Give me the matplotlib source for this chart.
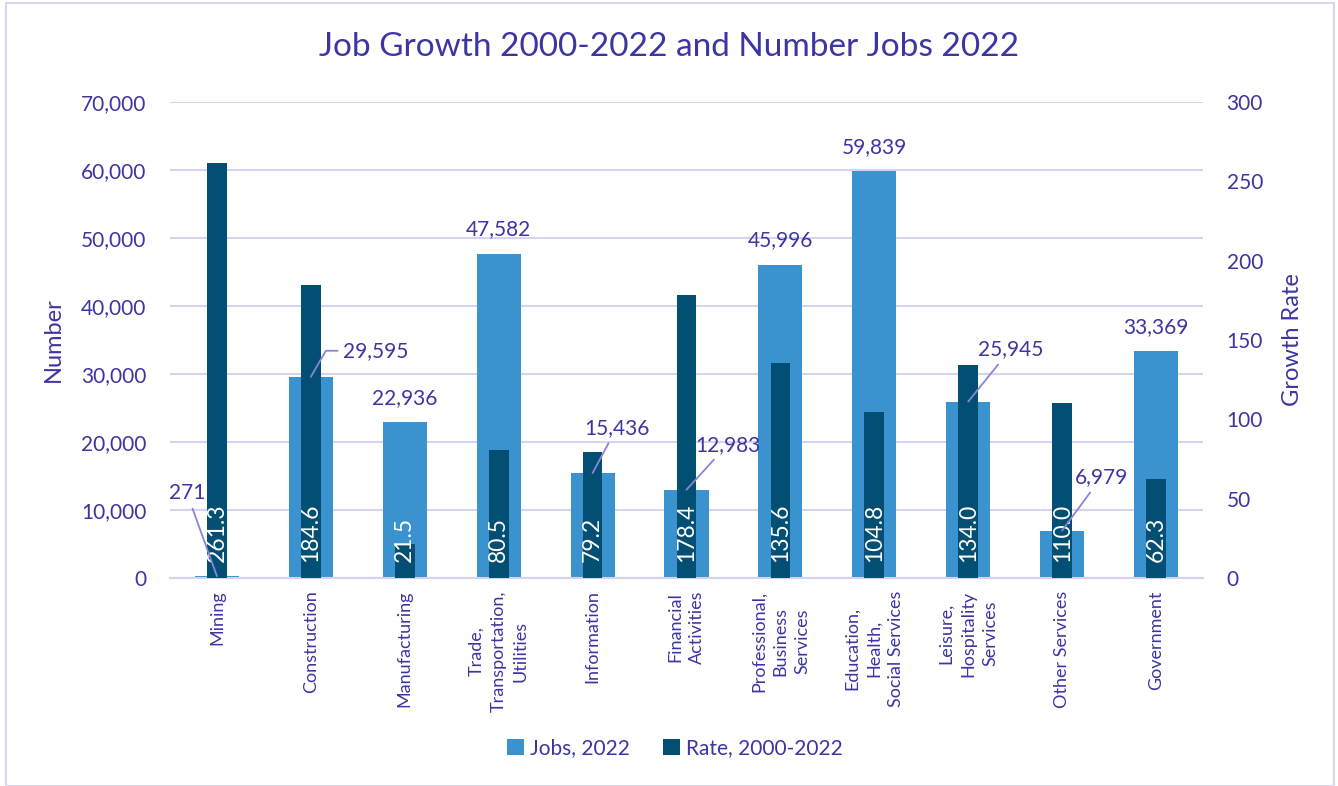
import matplotlib
matplotlib.use("Agg")
import matplotlib.pyplot as plt
from matplotlib.patches import Rectangle
from matplotlib.ticker import FuncFormatter

plt.rcParams['font.family'] = ['Lato', 'DejaVu Sans']

# data
categories = ["Mining", "Construction", "Manufacturing",
              "Trade,\nTransportation,\nUtilities", "Information",
              "Financial\nActivities", "Professional,\nBusiness\nServices",
              "Education,\nHealth,\nSocial Services",
              "Leisure,\nHospitality\nServices", "Other Services", "Government"]
jobs_2022 = [271, 29595, 22936, 47582, 15436, 12983, 45996, 59839, 25945, 6979, 33369]
rate_2000_2022 = [261.3, 184.6, 21.5, 80.5, 79.2, 178.4, 135.6, 104.8, 134.0, 110.0, 62.3]

# label offsets for the jobs numbers (pixels), and which get a leader line
label_off = [(-30, 83), (65, 26), (0, 24), (0, 25), (24, 45), (41, 45),
             (0, 25), (0, 24), (42, 52), (39, 53), (0, 24)]
leader = [True, True, False, False, True, True, False, False, True, True, False]

TXT = '#3C35A2'
LIGHT = '#3A92CF'
DARK = '#034F73'
GRID = '#D6D3F0'
LINE = '#8B84D8'

W, H = 1338, 786
fig = plt.figure(figsize=(W / 100, H / 100), dpi=100)
fig.patches.append(Rectangle((6 / W, 0), (1334 - 6) / W, 1 - 3 / H, transform=fig.transFigure,
                             fill=False, edgecolor='#D9D5F2', linewidth=1.5))

ax = fig.add_axes([170 / W, (H - 578) / H, (1203 - 170) / W, (578 - 102) / H])
ax2 = ax.twinx()

x = list(range(len(categories)))
ax.bar(x, jobs_2022, width=0.47, color=LIGHT, zorder=2, label='Jobs, 2022')
ax2.bar(x, rate_2000_2022, width=0.21, color=DARK, zorder=2, label='Rate, 2000-2022')

ax.set_xlim(-0.5, len(categories) - 0.5)
ax.set_ylim(0, 70000)
ax2.set_ylim(0, 300)
ax.set_yticks(range(0, 70001, 10000))
ax2.set_yticks(range(0, 301, 50))
ax.yaxis.set_major_formatter(FuncFormatter(lambda v, p: f'{int(v):,}'))

ax.grid(axis='y', color=GRID, linewidth=1.5, zorder=0)
ax.set_axisbelow(True)
for a in (ax, ax2):
    for s in a.spines.values():
        s.set_visible(False)
ax.spines['bottom'].set_visible(True)
ax.spines['bottom'].set_color(GRID)
ax.spines['bottom'].set_linewidth(1.5)

ax.tick_params(axis='y', length=0, pad=17, labelsize=15, labelcolor=TXT)
ax2.tick_params(axis='y', length=0, pad=17, labelsize=15, labelcolor=TXT)
ax.set_xticks(x)
ax.set_xticklabels(categories, rotation=90, ha='center', va='top',
                   multialignment='center', fontsize=13, color=TXT, linespacing=1.45)
ax.tick_params(axis='x', length=0, pad=9)

ax.set_ylabel('Number', fontsize=17, color=TXT, labelpad=12)
ax2.set_ylabel('Growth Rate', fontsize=17, color=TXT, labelpad=14)

# rate labels inside dark bars
for i, r in enumerate(rate_2000_2022):
    ax2.annotate(f'{r:.1f}', xy=(i, 0), xytext=(0, 16), textcoords='offset pixels',
                 rotation=90, ha='center', va='bottom', color='white', fontsize=16.5, zorder=5)

# jobs labels
for i, v in enumerate(jobs_2022):
    dx, dy = label_off[i]
    props = None
    if leader[i]:
        props = dict(arrowstyle='-', color=LINE, lw=1.3, shrinkA=2, shrinkB=0)
        if i == 1:
            props['connectionstyle'] = 'angle,angleA=0,angleB=60,rad=0'
    ax2.annotate(f'{v:,}', xy=(i, v), xycoords=ax.transData, xytext=(dx, dy),
                 textcoords='offset pixels', ha='center', va='center', fontsize=15,
                 color=TXT, arrowprops=props, zorder=6)

fig.text(0.5, 1 - 47 / H, 'Job Growth 2000-2022 and Number Jobs 2022',
         ha='center', va='center', fontsize=24, color=TXT)

h1, l1 = ax.get_legend_handles_labels()
h2, l2 = ax2.get_legend_handles_labels()
fig.legend(h1 + h2, l1 + l2, loc='center', bbox_to_anchor=(675 / W, 1 - 748 / H), ncol=2,
           frameon=False, fontsize=15, labelcolor=TXT, handlelength=0.8, handleheight=0.8,
           handletextpad=0.3, columnspacing=1.6)

fig.savefig('out.png', dpi=100)
